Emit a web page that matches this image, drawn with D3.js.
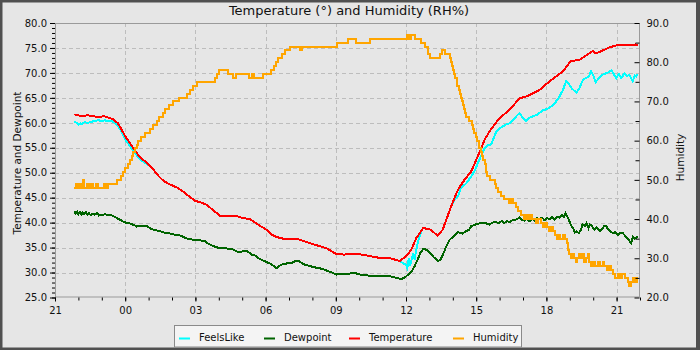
<!DOCTYPE html>
<html><head><meta charset="utf-8">
<script src="https://cdn.jsdelivr.net/npm/d3@7"></script>
<style>
body{margin:0;background:#fff}
svg{display:block;font-family:"DejaVu Sans",sans-serif}
</style>
</head><body>
<svg id="c" width="700" height="350"></svg>
<script>
// ---------- data ----------
const chartTitle = "Temperature (°) and Humidity (RH%)";
const leftLabel = "Temperature and Dewpoint";
const rightLabel = "Humidity";
const seriesNames = ["FeelsLike", "Dewpoint", "Temperature", "Humidity"];
const seriesColors = ["#00ffff", "#006400", "#ff0000", "#ffa500"];
const leftTickValues = [25, 30, 35, 40, 45, 50, 55, 60, 65, 70, 75, 80];
const rightTickValues = [20, 30, 40, 50, 60, 70, 80, 90];
const rightMinorValues = [25, 35, 45, 55, 65, 75, 85];
const startTime = "2024-01-01T21:00";   // x-axis start (hours below are offsets from this)
const spanHours = 25;

// [hours since 21:00, value]
const temperature = [[0.83,61.7],[1.10,61.4],[1.42,61.5],[1.79,61.2],[2.13,61.3],[2.49,60.7],[2.69,59.9],[2.85,58.6],[3.04,57.0],[3.28,55.4],[3.49,54.0],[3.63,53.1],[3.98,51.8],[4.18,50.8],[4.41,49.4],[4.63,48.4],[4.84,47.8],[5.27,46.9],[5.48,46.2],[5.69,45.4],[5.98,44.4],[6.19,44.1],[6.47,43.6],[6.76,42.5],[7.04,41.4],[7.76,41.3],[8.04,40.9],[8.33,40.7],[8.68,39.6],[9.03,38.6],[9.25,37.6],[9.49,37.1],[9.82,36.7],[10.32,36.8],[10.75,36.1],[11.16,35.5],[11.59,34.9],[12.02,33.7],[12.38,33.6],[12.81,33.8],[13.24,33.5],[13.80,33.0],[14.23,33.0],[14.73,32.3],[15.01,33.3],[15.23,34.6],[15.44,36.9],[15.73,38.9],[16.01,38.7],[16.36,37.4],[16.57,38.6],[16.93,43.3],[17.22,46.6],[17.50,48.6],[17.79,50.3],[18.07,53.3],[18.36,56.6],[18.57,58.3],[18.99,60.9],[19.42,62.6],[19.85,64.9],[20.21,65.4],[20.71,66.6],[21.13,68.3],[21.70,70.3],[22.05,72.4],[22.41,72.6],[22.98,74.4],[23.12,73.9],[23.69,75.1],[23.97,75.5],[24.40,75.5],[24.83,75.7],[24.90,75.5]];

const feelsLike = [[0.83,60.3],[0.92,60.0],[1.00,59.6],[1.08,59.9],[1.15,59.7],[1.25,60.1],[1.40,60.0],[1.55,60.2],[1.70,60.4],[1.85,60.5],[2.00,60.4],[2.13,60.5],[2.25,60.3],[2.40,60.4],[2.55,60.0],[2.70,59.4],[2.85,58.1],[3.04,56.4],[3.28,54.8],[3.49,53.5],[3.63,52.7],[3.80,52.1],[3.98,51.6],[4.18,50.8],[4.41,49.4],[4.63,48.4],[4.84,47.8],[5.27,46.9],[5.48,46.2],[5.69,45.4],[5.98,44.4],[6.19,44.1],[6.47,43.6],[6.76,42.5],[7.04,41.4],[7.76,41.3],[8.04,40.9],[8.33,40.7],[8.68,39.6],[9.03,38.6],[9.25,37.6],[9.49,37.1],[9.82,36.7],[10.32,36.8],[10.75,36.1],[11.16,35.5],[11.59,34.9],[12.02,33.7],[12.38,33.6],[12.81,33.8],[13.24,33.5],[13.80,33.0],[14.23,33.0],[14.73,32.3],[15.01,31.5],[15.06,30.9],[15.12,32.9],[15.17,31.3],[15.30,33.6],[15.37,32.6],[15.44,34.6],[15.54,36.6],[15.63,37.9],[15.69,38.6],[15.73,38.9],[16.01,38.7],[16.36,37.4],[16.57,38.6],[16.93,43.3],[17.10,44.8],[17.22,45.2],[17.35,47.0],[17.45,47.4],[17.51,47.6],[17.60,48.0],[17.79,49.3],[17.95,50.5],[18.07,51.9],[18.22,53.5],[18.36,54.9],[18.50,55.5],[18.65,55.7],[18.75,57.0],[18.86,58.3],[19.00,58.9],[19.14,59.3],[19.30,59.7],[19.43,59.9],[19.60,60.6],[19.75,61.5],[19.85,61.9],[19.95,61.3],[20.05,60.7],[20.14,60.4],[20.28,61.0],[20.42,61.3],[20.60,61.6],[20.85,62.5],[21.05,62.8],[21.21,63.3],[21.40,64.2],[21.56,65.3],[21.70,66.5],[21.85,68.4],[21.95,67.8],[22.10,66.8],[22.28,66.1],[22.40,66.8],[22.56,68.6],[22.70,69.0],[22.80,69.2],[22.91,70.3],[23.00,69.5],[23.10,68.1],[23.25,69.0],[23.42,69.7],[23.60,70.0],[23.77,70.5],[23.88,69.8],[23.98,68.9],[24.10,69.8],[24.20,69.0],[24.34,69.9],[24.45,69.4],[24.55,69.6],[24.69,68.3],[24.78,69.5],[24.84,69.3],[24.90,69.8]];

const dewpoint = [[0.83,42.3],[0.88,41.8],[0.95,42.2],[1.00,41.7],[1.06,42.1],[1.12,41.6],[1.18,42.0],[1.25,41.7],[1.32,42.1],[1.38,41.6],[1.45,41.9],[1.52,41.5],[1.60,41.8],[1.70,41.6],[1.80,41.9],[1.88,41.4],[1.96,41.6],[2.05,41.5],[2.13,41.7],[2.25,41.5],[2.35,41.6],[2.49,41.3],[2.62,41.0],[2.72,40.7],[2.85,40.4],[2.95,40.1],[3.04,40.0],[3.15,39.9],[3.27,39.7],[3.40,39.5],[3.50,39.2],[3.56,39.3],[3.70,39.3],[3.91,39.4],[4.00,39.1],[4.13,38.7],[4.30,38.5],[4.45,38.3],[4.55,38.2],[4.75,37.9],[4.98,37.8],[5.10,37.6],[5.25,37.6],[5.41,37.3],[5.55,37.0],[5.69,36.7],[5.90,36.6],[6.12,36.6],[6.25,36.4],[6.40,36.3],[6.55,35.8],[6.76,35.3],[6.95,35.0],[7.19,34.9],[7.40,34.8],[7.62,34.6],[7.78,34.2],[7.90,34.1],[8.05,34.3],[8.19,34.3],[8.30,34.0],[8.40,33.6],[8.55,33.4],[8.68,32.9],[8.85,32.5],[9.04,32.1],[9.20,31.8],[9.35,31.3],[9.47,30.9],[9.55,31.2],[9.68,31.6],[9.82,31.7],[9.96,31.9],[10.10,31.9],[10.32,32.4],[10.45,32.2],[10.60,31.7],[10.75,31.5],[10.90,31.3],[11.03,31.1],[11.25,30.9],[11.46,30.7],[11.65,30.3],[11.81,30.1],[11.92,29.8],[12.03,29.6],[12.30,29.7],[12.60,29.8],[12.81,29.9],[13.05,29.6],[13.38,29.4],[13.65,29.4],[13.95,29.3],[14.15,29.3],[14.38,29.2],[14.60,28.9],[14.80,28.7],[14.95,29.0],[15.09,29.6],[15.25,30.3],[15.37,31.3],[15.50,32.6],[15.62,34.0],[15.73,34.7],[15.85,34.6],[16.01,34.1],[16.20,33.0],[16.37,32.3],[16.48,32.6],[16.58,33.6],[16.70,35.0],[16.87,36.6],[17.05,37.3],[17.22,38.1],[17.40,37.8],[17.58,38.3],[17.70,38.6],[17.79,39.3],[17.95,39.6],[18.10,39.8],[18.22,39.9],[18.40,39.9],[18.58,39.6],[18.68,40.0],[18.79,40.1],[18.90,40.0],[19.00,40.0],[19.10,40.4],[19.20,39.9],[19.30,40.3],[19.43,40.1],[19.55,40.5],[19.70,40.6],[19.85,41.0],[19.95,40.6],[20.05,40.4],[20.15,40.8],[20.28,40.3],[20.40,40.7],[20.50,40.4],[20.60,40.9],[20.71,40.7],[20.82,41.0],[20.92,40.5],[21.02,40.9],[21.14,40.7],[21.25,41.1],[21.35,40.6],[21.45,41.2],[21.56,41.0],[21.66,41.5],[21.75,41.2],[21.82,41.9],[21.90,41.2],[21.97,40.4],[22.07,39.3],[22.15,38.8],[22.22,38.0],[22.28,38.3],[22.38,37.9],[22.48,38.6],[22.55,39.7],[22.64,39.3],[22.72,39.9],[22.80,38.9],[22.85,39.7],[22.95,39.3],[23.05,38.6],[23.15,39.1],[23.28,38.3],[23.38,38.7],[23.46,39.3],[23.56,39.3],[23.64,38.6],[23.72,38.3],[23.84,37.9],[23.95,38.1],[24.05,37.5],[24.15,38.0],[24.27,37.9],[24.37,37.3],[24.46,36.9],[24.56,36.3],[24.62,35.9],[24.70,37.1],[24.78,36.8],[24.84,36.9],[24.90,37.2]];

const humidity = [[0.83,48],[0.90,49],[0.97,48],[1.05,49],[1.12,48],[1.20,50],[1.24,48],[1.35,49],[1.45,48],[1.55,49],[1.62,48],[1.75,49],[1.85,48],[2.00,48],[2.10,49],[2.20,48],[2.28,49],[2.63,50],[2.80,51],[2.92,52],[2.99,53],[3.10,54],[3.20,55],[3.28,56],[3.34,57],[3.42,58],[3.50,59],[3.56,60],[3.66,61],[3.85,62],[4.05,63],[4.20,64],[4.35,65],[4.45,66],[4.60,67],[4.72,68],[4.88,69],[5.05,70],[5.30,71],[5.62,72],[5.75,73],[5.90,74],[6.05,75],[6.83,76],[6.92,77],[7.00,78],[7.40,77],[7.62,76],[7.72,77],[8.28,76],[8.42,77],[8.52,76],[8.90,77],[9.25,78],[9.35,79],[9.45,80],[9.55,81],[9.68,82],[9.85,83],[10.05,84],[10.45,83],[10.55,84],[12.03,85],[12.53,86],[12.88,85],[13.45,86],[15.02,86],[15.06,87],[15.14,86],[15.20,87],[15.40,86],[15.65,85],[15.80,84],[15.94,82],[16.01,81],[16.44,82],[16.52,83],[16.65,82],[16.88,81],[16.93,80],[16.97,79],[17.02,78],[17.07,77],[17.11,76],[17.16,75],[17.20,74],[17.25,73],[17.30,72],[17.34,71],[17.38,70],[17.42,69],[17.46,68],[17.52,67],[17.56,66],[17.68,65],[17.80,64],[17.86,63],[17.92,62],[17.98,61],[18.04,60],[18.10,59],[18.14,58],[18.20,57],[18.25,56],[18.30,55],[18.36,54],[18.40,53],[18.44,52],[18.48,51],[18.58,50],[18.80,49],[18.86,48],[18.93,47],[19.05,46],[19.20,45],[19.40,44],[19.50,45],[19.57,44],[19.68,43],[19.80,42],[19.92,41],[20.05,40],[20.12,41],[20.20,40],[20.30,41],[20.40,40],[20.55,39],[20.65,40],[20.75,39],[20.85,38],[20.95,39],[21.02,38],[21.10,37],[21.20,38],[21.28,37],[21.35,36],[21.45,35],[21.52,36],[21.60,35],[21.70,36],[21.78,35],[21.87,34],[21.92,32],[21.97,31],[22.03,30],[22.10,31],[22.18,30],[22.25,29],[22.32,30],[22.40,31],[22.47,30],[22.55,31],[22.62,29],[22.70,30],[22.78,31],[22.83,29],[22.90,28],[23.00,29],[23.08,28],[23.20,29],[23.30,28],[23.40,29],[23.48,28],[23.58,27],[23.66,28],[23.76,27],[23.83,26],[23.95,25],[24.05,26],[24.15,25],[24.25,26],[24.35,25],[24.48,24],[24.55,23],[24.62,24],[24.70,25],[24.78,24],[24.86,25],[24.92,25]];

// ---------- layout ----------
const W = 700, H = 350;
const M = {left: 55, right: 640, top: 23, bottom: 297.5};
const svg = d3.select("#c");
const base = new Date(startTime);
const toDate = h => new Date(base.getTime() + h * 3600000);

const x = d3.scaleTime().domain([base, toDate(spanHours)]).range([M.left, M.right]);
const yL = d3.scaleLinear().domain([25, 80]).range([M.bottom, M.top]);
const yR = d3.scaleLinear().domain([20, 90]).range([M.bottom, M.top]);

// background + outer border
svg.append("rect").attr("width", W).attr("height", H).attr("fill", "#505050");
svg.append("rect").attr("x", 2.5).attr("y", 2.5).attr("width", 693.5).attr("height", 345).attr("fill", "#e6e6e6");

// title
svg.append("text").attr("x", 349).attr("y", 15).attr("text-anchor", "middle")
  .attr("font-size", 13).attr("fill", "#111").text(chartTitle);

// grid
const grid = svg.append("g").attr("stroke", "#bdbdbd").attr("stroke-dasharray", "4,3").attr("stroke-width", 1);
grid.selectAll("line.h").data(leftTickValues.slice(1, -1)).join("line")
  .attr("x1", M.left).attr("x2", M.right)
  .attr("y1", d => Math.round(yL(d)) + 0.5).attr("y2", d => Math.round(yL(d)) + 0.5);
grid.selectAll("line.v").data(x.ticks(d3.timeHour.every(3)).slice(1)).join("line")
  .attr("y1", M.top).attr("y2", M.bottom)
  .attr("x1", d => Math.round(x(d)) + 0.5).attr("x2", d => Math.round(x(d)) + 0.5);

// data lines
svg.append("clipPath").attr("id", "clip").append("rect")
  .attr("x", M.left).attr("y", M.top).attr("width", M.right - M.left).attr("height", M.bottom - M.top);
const plot = svg.append("g").attr("clip-path", "url(#clip)");
const lineL = d3.line().x(d => x(toDate(d[0]))).y(d => yL(d[1]));
const lineH = d3.line().x(d => x(toDate(d[0]))).y(d => yR(d[1])).curve(d3.curveStepAfter);
const seriesData = [feelsLike, dewpoint, temperature, humidity];
seriesData.forEach((data, i) => {
  plot.append("path").datum(data)
    .attr("d", i === 3 ? lineH : lineL)
    .attr("fill", "none").attr("stroke", seriesColors[i]).attr("stroke-width", 2)
    .attr("stroke-linejoin", "miter")
    .attr("shape-rendering", "crispEdges");
});

// frame
svg.append("rect").attr("x", M.left + 0.5).attr("y", M.top + 0.5)
  .attr("width", M.right - M.left - 1).attr("height", M.bottom - M.top - 1)
  .attr("fill", "none").attr("stroke", "#9a9a9a");

function styleAxis(g) {
  g.select(".domain").remove();
  g.selectAll("line").attr("stroke", "#000");
  g.selectAll("text").attr("fill", "#111").attr("font-size", 10).attr("font-family", "DejaVu Sans");
}

// left axis
const leftMinor = d3.range(25, 81, 1);
svg.append("g").attr("transform", `translate(${M.left},0)`)
  .call(d3.axisLeft(yL).tickValues(leftMinor).tickSize(3).tickFormat(""))
  .call(styleAxis);
svg.append("g").attr("transform", `translate(${M.left},0)`)
  .call(d3.axisLeft(yL).tickValues(leftTickValues).tickSize(5).tickPadding(3).tickFormat(d3.format(".1f")))
  .call(styleAxis);

// right axis (ticks inward)
svg.append("g").attr("transform", `translate(${M.right - 0.5},0)`)
  .call(d3.axisRight(yR).tickValues(rightMinorValues).tickSize(-4).tickFormat(""))
  .call(styleAxis);
svg.append("g").attr("transform", `translate(${M.right - 0.5},0)`)
  .call(d3.axisRight(yR).tickValues(rightTickValues).tickSize(-5).tickPadding(7).tickFormat(d3.format(".1f")))
  .call(styleAxis);

// bottom axis
svg.append("g").attr("transform", `translate(0,${M.bottom})`)
  .call(d3.axisBottom(x).ticks(d3.timeHour.every(1)).tickSize(3).tickFormat(""))
  .call(styleAxis);
svg.append("g").attr("transform", `translate(0,${M.bottom})`)
  .call(d3.axisBottom(x).ticks(d3.timeHour.every(3)).tickSize(4).tickPadding(5).tickFormat(d3.timeFormat("%H")))
  .call(styleAxis);

// axis titles
svg.append("text").attr("transform", "translate(20.5,163) rotate(-90)")
  .attr("text-anchor", "middle").attr("font-size", 10.5).attr("fill", "#111").text(leftLabel);
svg.append("text").attr("transform", "translate(684,157.5) rotate(-90)")
  .attr("text-anchor", "middle").attr("font-size", 10.5).attr("fill", "#111").text(rightLabel);

// legend
const lg = svg.append("g");
lg.append("rect").attr("x", 174.5).attr("y", 325.5).attr("width", 347).attr("height", 21.5)
  .attr("fill", "#f4f4f4").attr("stroke", "#8a8a8a");
const legendSwatchX = [179, 264, 349, 453];
seriesNames.forEach((name, i) => {
  lg.append("line").attr("x1", legendSwatchX[i]).attr("x2", legendSwatchX[i] + 11)
    .attr("y1", 338.5).attr("y2", 338.5).attr("stroke", seriesColors[i]).attr("stroke-width", 2);
  lg.append("text").attr("x", legendSwatchX[i] + 20).attr("y", 341)
    .attr("font-size", 10).attr("fill", "#111").text(name);
});
</script>
</body></html>
